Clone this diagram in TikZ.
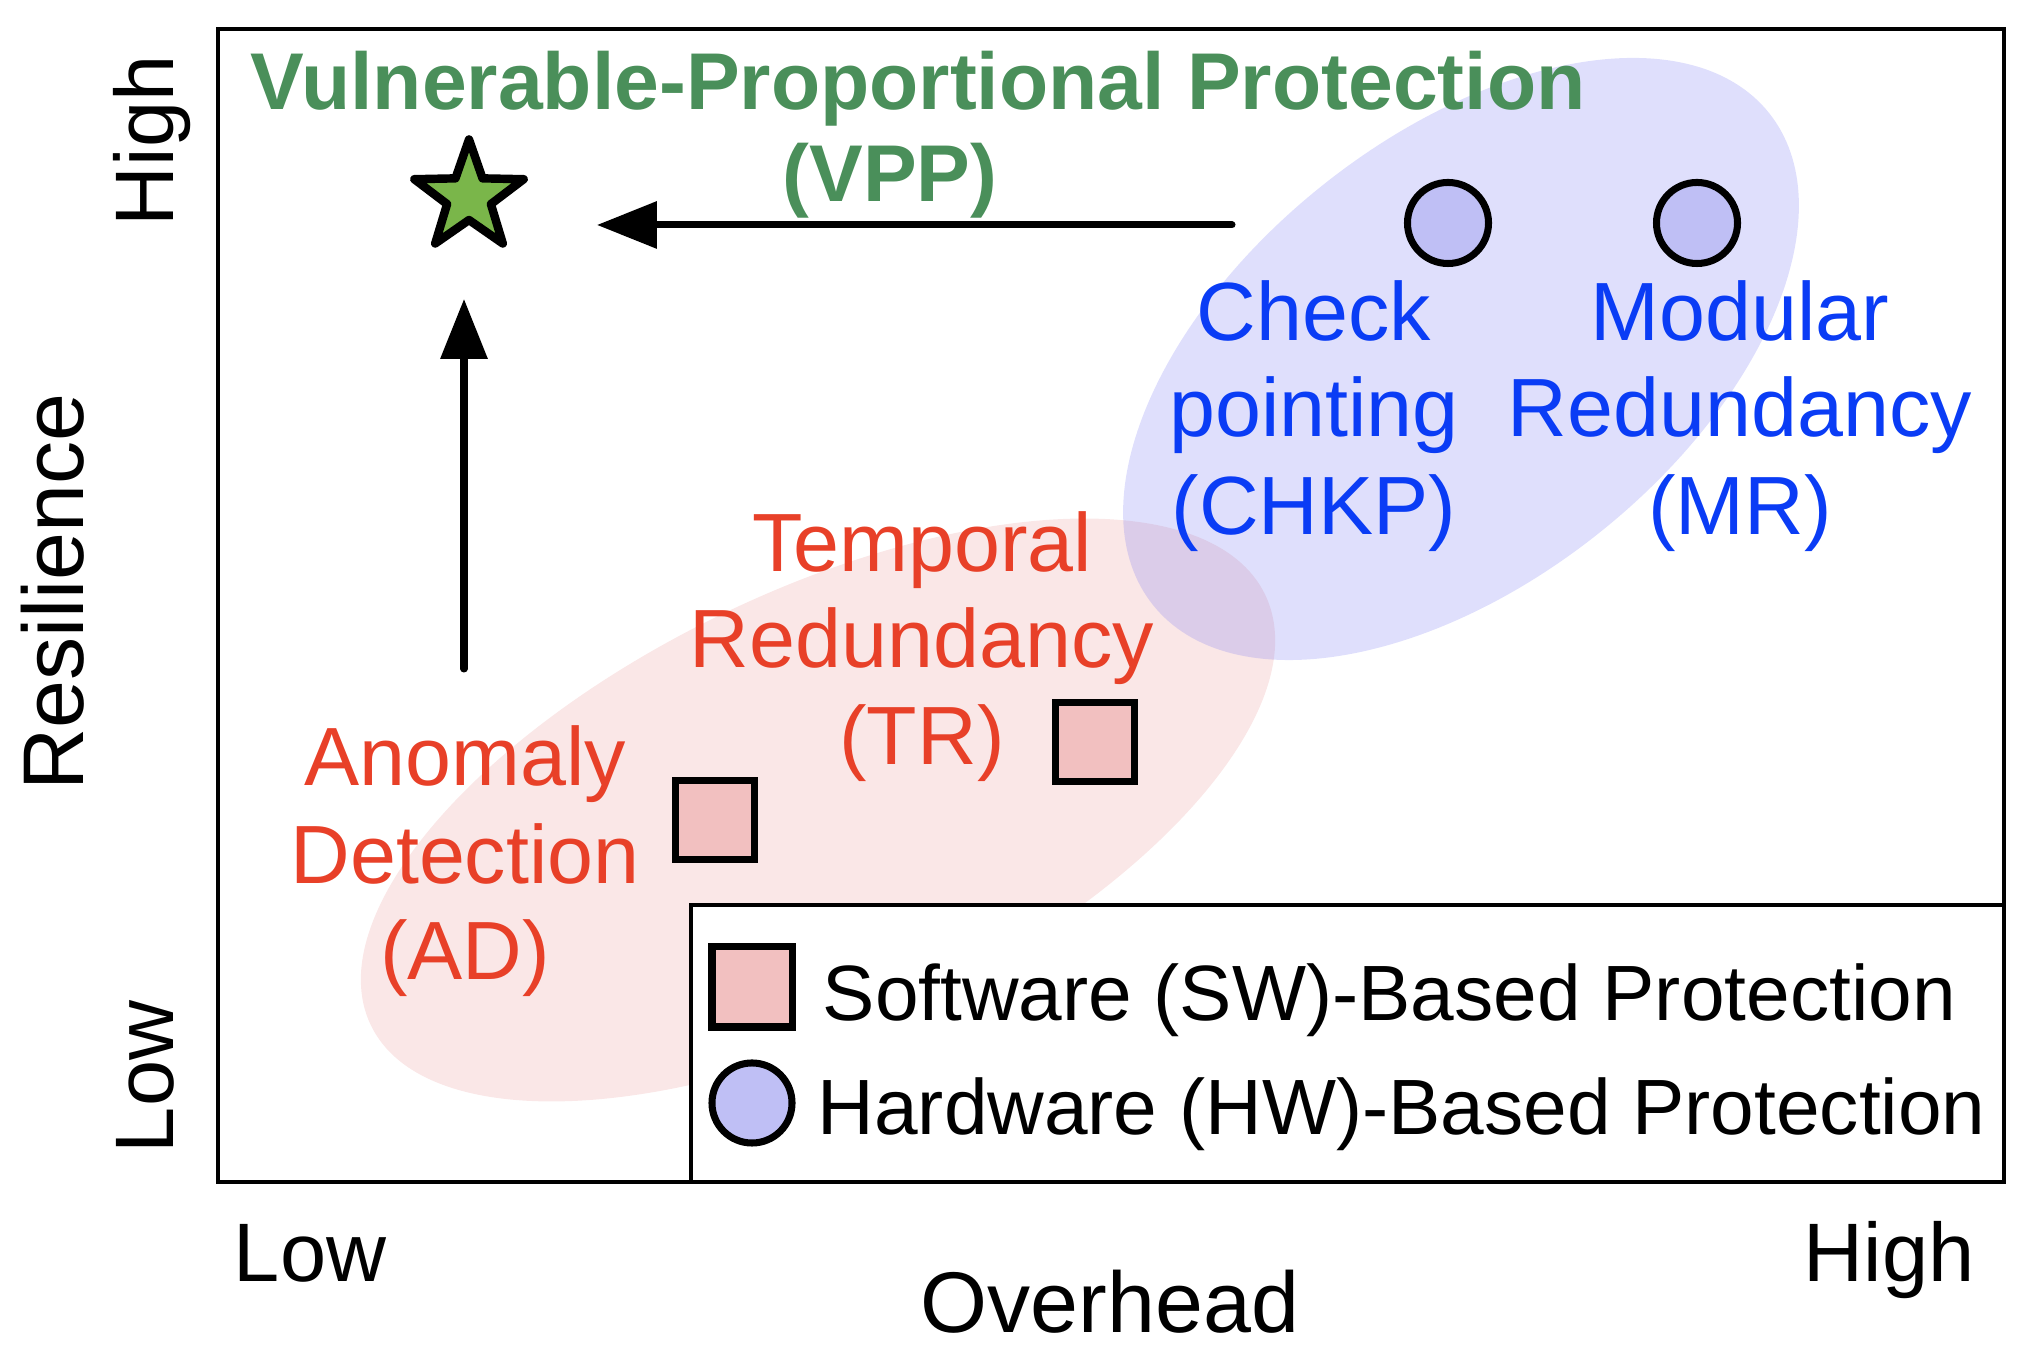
\documentclass[tikz,border=0pt]{standalone}
\usepackage{fontspec}
\setmainfont{Liberation Sans}
\usetikzlibrary{shapes.geometric,arrows.meta}
\definecolor{vppgreen}{RGB}{74,143,90}
\definecolor{starfill}{RGB}{122,182,74}
\definecolor{swred}{RGB}{232,64,40}
\definecolor{hwblue}{RGB}{10,60,245}
\definecolor{sqfill}{RGB}{242,192,192}
\definecolor{cifill}{RGB}{191,191,245}
\definecolor{redbase}{RGB}{226,120,120}
\definecolor{bluebase}{RGB}{110,110,240}
\tikzset{
  lbl/.style={font=\fontsize{23.5}{27.6}\selectfont, inner sep=0pt, anchor=base},
  axlbl/.style={font=\fontsize{23.6}{28}\selectfont, inner sep=0pt, anchor=base},
  axtitle/.style={font=\fontsize{24.5}{29}\selectfont, inner sep=0pt, anchor=base},
  legtxt/.style={font=\fontsize{22.3}{27}\selectfont, inner sep=0pt, anchor=base west},
  swsq/.style={draw, line width=2pt, fill=sqfill, rectangle, minimum size=0.79cm, inner sep=0pt},
  hwci/.style={draw, line width=2pt, fill=cifill, circle, minimum size=0.81cm, inner sep=0pt},
  bigarrow/.style={line width=2pt, line cap=round, -{Triangle[length=17pt,width=13pt]}},
  frameline/.style={line width=1.2pt}
}
\begin{document}
\begin{tikzpicture}[x=0.01cm,y=0.01cm]
\useasboundingbox (0,0) rectangle (2036,1358);
% group ellipses
\fill[redbase, opacity=0.18, rotate around={25.7:(818,548)}] (818,548) ellipse [x radius=4.96cm, y radius=2.18cm];
\fill[bluebase, opacity=0.22, rotate around={38.6:(1461,999)}] (1461,999) ellipse [x radius=3.94cm, y radius=2.22cm];
% plot frame
\draw[frameline] (218,176) rectangle (2004,1329);
% title
\node[font=\bfseries\fontsize{22.9}{27}\selectfont, text=vppgreen, inner sep=0pt, anchor=base] (title) at (918,1248) {Vulnerable-Proportional Protection};
\node[font=\bfseries\fontsize{22.9}{27}\selectfont, text=vppgreen, inner sep=0pt, anchor=base] (vppabbr) at (890,1156) {(VPP)};
% star
\node[star, star points=5, star point ratio=2.5, minimum size=1.15cm, inner sep=0pt, draw, line width=2.4pt, line join=round, fill=starfill] (vpp) at (469,1161) {};
% arrows
\coordinate (hstart) at (1232,1133);
\coordinate (hend) at (597,1133);
\coordinate (vstart) at (464,689);
\coordinate (vend) at (464,1059);
\draw[bigarrow] (hstart) -- (hend);
\draw[bigarrow] (vstart) -- (vend);
% hardware markers
\node[hwci] (chkp) at (1448,1135) {};
\node[hwci] (mr) at (1697,1135) {};
% software markers
\node[swsq] (ad) at (715,538) {};
\node[swsq] (tr) at (1095,616) {};
% labels
\node[lbl, text=hwblue] (chkp1) at (1314,1017) {Check};
\node[lbl, text=hwblue] (chkp2) at (1314,921) {pointing};
\node[lbl, text=hwblue] (chkp3) at (1314,823) {(CHKP)};
\node[lbl, text=hwblue] (mr1) at (1740,1017) {Modular};
\node[lbl, text=hwblue] (mr2) at (1740,921) {Redundancy};
\node[lbl, text=hwblue] (mr3) at (1740,823) {(MR)};
\node[lbl, text=swred] (tr1) at (922,786) {Temporal};
\node[lbl, text=swred] (tr2) at (922,690) {Redundancy};
\node[lbl, text=swred] (tr3) at (922,593) {(TR)};
\node[lbl, text=swred] (ad1) at (465,572) {Anomaly};
\node[lbl, text=swred] (ad2) at (465,474) {Detection};
\node[lbl, text=swred] (ad3) at (465,378) {(AD)};
% legend
\draw[frameline, fill=white] (691,176) rectangle (2004,453);
\node[swsq, minimum size=0.8cm] (legsq) at (752,371) {};
\node[hwci, minimum size=0.8cm] (legci) at (752,255) {};
\node[legtxt] (legsw) at (822,337) {Software (SW)-Based Protection};
\node[legtxt] (leghw) at (817,223) {Hardware (HW)-Based Protection};
% axes labels
\node[axlbl] (xlow) at (310,76) {Low};
\node[axlbl] (xhigh) at (1889,76) {High};
\node[axtitle] (xtitle) at (1110,25) {Overhead};
\node[axlbl, rotate=90] (ylow) at (173,281) {Low};
\node[axlbl, rotate=90] (yhigh) at (173,1217) {High};
\node[axtitle, rotate=90] (ytitle) at (83,766) {Resilience};
\end{tikzpicture}
\end{document}
